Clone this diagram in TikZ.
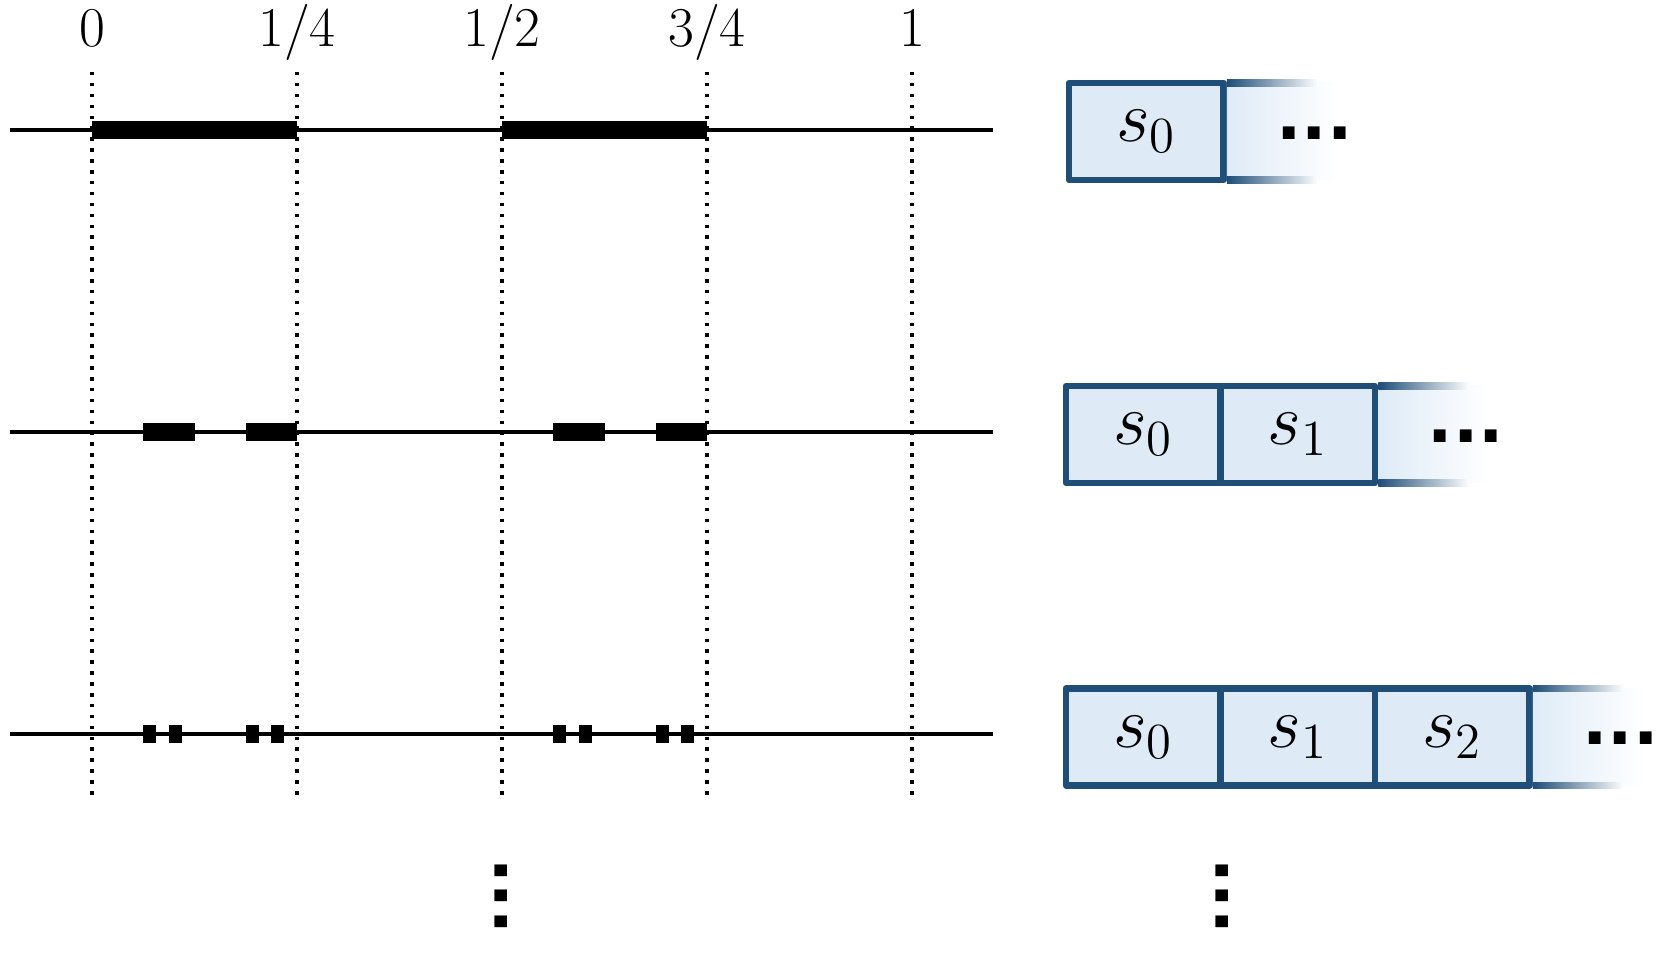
\documentclass[tikz,border=0pt]{standalone}
\usepackage{fontspec}
\newfontfamily\dotfont{DejaVu Sans}
\usetikzlibrary{positioning}

\definecolor{boxblue}{RGB}{31,78,121}
\definecolor{boxfill}{RGB}{222,235,247}

\tikzset{
  frac/.style={anchor=base, font=\fontsize{16}{19}\selectfont},
  guide/.style={line width=1pt, dash pattern=on 1pt off 2.1pt},
  cell/.style={draw=boxblue, fill=boxfill, line width=1.9pt, minimum width=1.545cm,
    minimum height=0.97cm, inner sep=0pt, outer sep=0pt, font=\fontsize{20}{22}\selectfont},
  bigdots/.style={inner sep=0pt, font=\dotfont\bfseries\fontsize{19}{20}\selectfont},
}

% fading tail after the last cell of a row
\newcommand\fadetail[1]{%
  \shade[left color=boxfill, right color=white] ([xshift=0.95pt]#1.north east) rectangle ([xshift=1.15cm]#1.south east);
  \shade[left color=boxblue, right color=white] ([xshift=0.95pt,yshift=0.95pt]#1.north east) rectangle ([xshift=0.95cm,yshift=-0.95pt]#1.north east);
  \shade[left color=boxblue, right color=white] ([xshift=0.95pt,yshift=0.95pt]#1.south east) rectangle ([xshift=0.95cm,yshift=-0.95pt]#1.south east);
}

\begin{document}
\begin{tikzpicture}[line join=round]
	\useasboundingbox (0,0) rectangle (16.59,9.65);
	% labels on top
	\node[frac] (l0) at (0.92,9.18) {0};
	\node[frac] (l1) at (2.97,9.18) {1/4};
	\node[frac] (l2) at (5.02,9.18) {1/2};
	\node[frac] (l3) at (7.07,9.18) {3/4};
	\node[frac] (l4) at (9.12,9.18) {1};
	\foreach \x in {0.92,2.97,5.02,7.07,9.12}
		\draw[guide] (\x,8.93) -- (\x,1.69);
	% the three lines
	\foreach \y in {8.35,5.33,2.31}
		\draw[line width=1.15pt] (0.10,\y) -- (9.93,\y);
	% kept pieces, in 1/64
	\foreach \a/\b in {0/16,32/48}
		\fill (0.92+8.2*\a/64,8.35-0.0875) rectangle (0.92+8.2*\b/64,8.35+0.0875);
	\foreach \a/\b in {4/8,12/16,36/40,44/48}
		\fill (0.92+8.2*\a/64,5.33-0.0875) rectangle (0.92+8.2*\b/64,5.33+0.0875);
	\foreach \a/\b in {4/5,6/7,12/13,14/15,36/37,38/39,44/45,46/47}
		\fill (0.92+8.2*\a/64,2.31-0.0875) rectangle (0.92+8.2*\b/64,2.31+0.0875);
	% strings
	\node[cell] (a0) at (11.4625,8.335) {$s_0$};
	\fadetail{a0}
	\node[bigdots] (ad) at ([xshift=0.91cm,yshift=-0.015cm]a0.east) {...};

	\node[cell] (b0) at (11.4325,5.305) {$s_0$};
	\node[cell, right=0pt of b0] (b1) {$s_1$};
	\fadetail{b1}
	\node[bigdots] (bd) at ([xshift=0.91cm,yshift=-0.015cm]b1.east) {...};

	\node[cell] (c0) at (11.4325,2.28) {$s_0$};
	\node[cell, right=0pt of c0] (c1) {$s_1$};
	\node[cell, right=0pt of c1] (c2) {$s_2$};
	\fadetail{c2}
	\node[bigdots] (cd) at ([xshift=0.91cm,yshift=-0.015cm]c2.east) {...};
	% and so on
	\node[bigdots, rotate=90] (vl) at (5.01,0.69) {...};
	\node[bigdots, rotate=90] (vr) at (12.22,0.69) {...};
\end{tikzpicture}
\end{document}
